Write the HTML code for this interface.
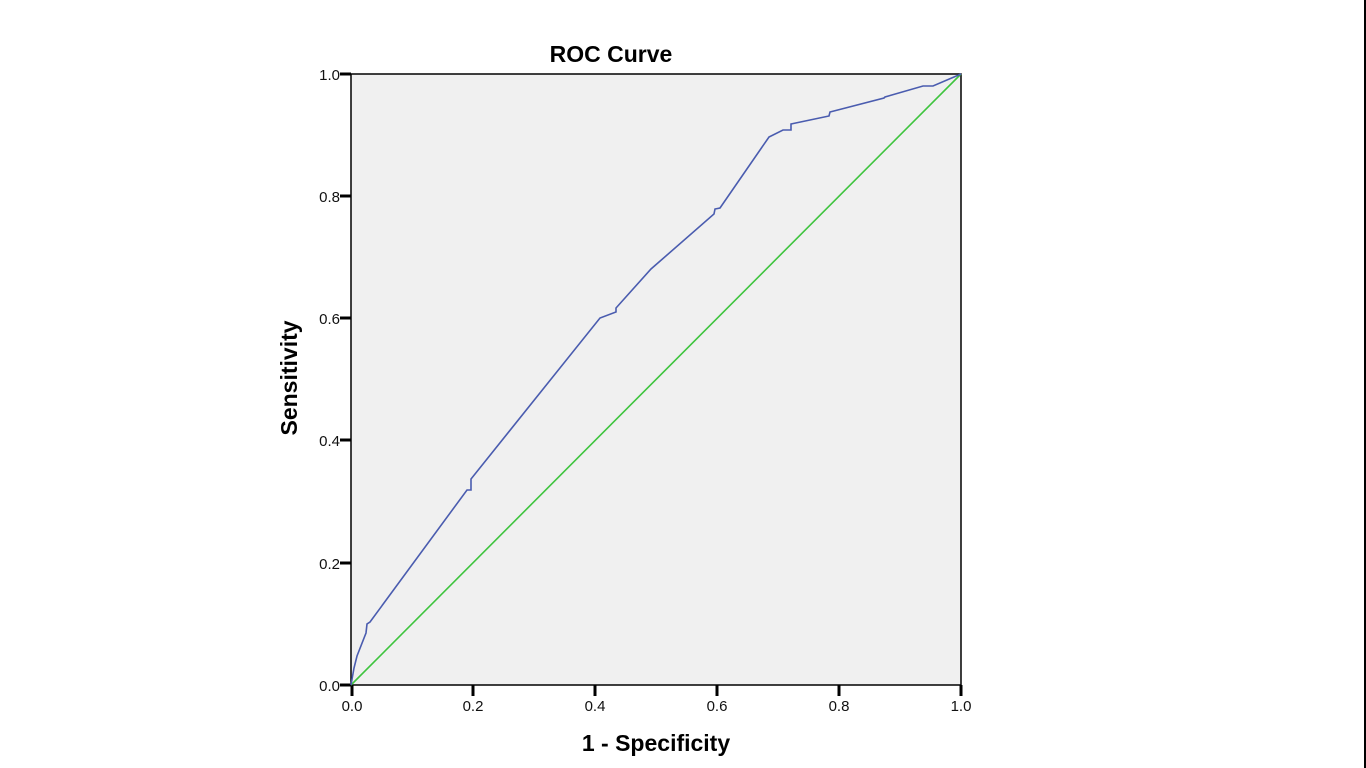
<!DOCTYPE html>
<html><head><style>
body{margin:0;width:1366px;height:768px;background:#fff;overflow:hidden;font-family:"Liberation Sans",Arial,sans-serif;}
</style></head><body>
<svg width="1366" height="768" style="position:absolute;left:0;top:0">
<rect x="1364" y="0" width="2" height="768" fill="#000"/>
<rect x="351" y="74" width="610" height="611" fill="#f0f0f0" stroke="#000" stroke-width="1.5"/>
<text x="611" y="62" font-size="23" font-weight="bold" text-anchor="middle">ROC Curve</text>
<g stroke="#000" stroke-width="3">
<line x1="340" y1="74" x2="351" y2="74"/><line x1="340" y1="196" x2="351" y2="196"/><line x1="340" y1="318" x2="351" y2="318"/><line x1="340" y1="440" x2="351" y2="440"/><line x1="340" y1="563" x2="351" y2="563"/><line x1="340" y1="685" x2="351" y2="685"/>
<line x1="352" y1="685" x2="352" y2="696"/><line x1="473" y1="685" x2="473" y2="696"/><line x1="595" y1="685" x2="595" y2="696"/><line x1="717" y1="685" x2="717" y2="696"/><line x1="839" y1="685" x2="839" y2="696"/><line x1="961" y1="685" x2="961" y2="696"/>
</g>
<g font-size="15" text-anchor="end" fill="#111">
<text x="340" y="80">1.0</text><text x="340" y="202">0.8</text><text x="340" y="324">0.6</text><text x="340" y="446">0.4</text><text x="340" y="569">0.2</text><text x="340" y="691">0.0</text>
</g>
<g font-size="15" text-anchor="middle" fill="#111">
<text x="352" y="711">0.0</text><text x="473" y="711">0.2</text><text x="595" y="711">0.4</text><text x="717" y="711">0.6</text><text x="839" y="711">0.8</text><text x="961" y="711">1.0</text>
</g>
<text x="656" y="751" font-size="23" font-weight="bold" text-anchor="middle">1 - Specificity</text>
<text transform="translate(297,378) rotate(-90)" font-size="23" font-weight="bold" text-anchor="middle">Sensitivity</text>
<line x1="351" y1="685" x2="961" y2="74" stroke="#3ec43e" stroke-width="1.6"/>
<polyline fill="none" stroke="#4a5caf" stroke-width="1.6" points="351,685 354,668 357,656 366,633 367,624 370,622 467,490 471,490 471,479 600,318 616,312 616,308 651,269 714,214 715,209 720,208 769,137 783,130 791,130 791,124 829,116 830,112 884,98 885,97 923,86 933,86 961,74"/>
</svg>
</body></html>
